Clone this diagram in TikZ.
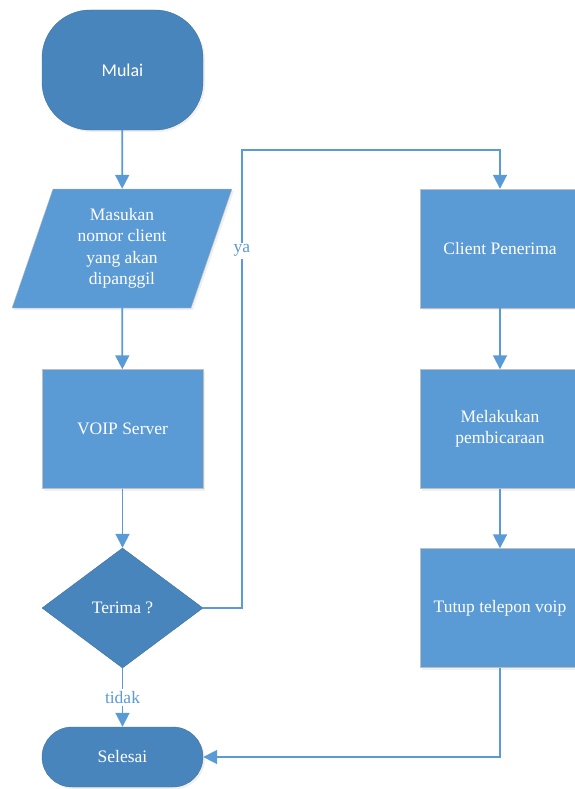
\documentclass[tikz,border=0pt]{standalone}
\usepackage{fontspec}
\setmainfont{Liberation Serif}
\newfontfamily\calibri{Carlito}
\usetikzlibrary{shapes.geometric, arrows.meta, positioning, shadows}
\definecolor{darkblue}{RGB}{73, 133, 189}
\definecolor{lightblue}{RGB}{91, 155, 213}
\definecolor{edgeblue}{RGB}{65, 113, 156}
\definecolor{boxgray}{RGB}{190, 190, 190}

\begin{document}
\begin{tikzpicture}[x=1pt, y=-1pt,
  term/.style={rectangle, draw=edgeblue, fill=darkblue, text=white, minimum width=161pt, inner sep=0pt, drop shadow={opacity=0.12, shadow xshift=2pt, shadow yshift=-2pt}},
  proc/.style={rectangle, draw=boxgray, fill=lightblue, text=white, minimum width=160pt, minimum height=119pt, inner sep=0pt, font=\fontsize{17.5}{21.5}\selectfont, drop shadow={opacity=0.12, shadow xshift=2pt, shadow yshift=-2pt}},
  arr/.style={draw=lightblue, line width=1.8pt, -{Triangle[width=14pt, length=14pt]}},
  lbl/.style={fill=white, text=lightblue, font=\fontsize{17.5}{20}\selectfont, inner sep=2pt},
]
  \useasboundingbox (0,0) rectangle (574,789);
  % Left column
  \node[term, rounded corners=48pt, minimum height=120pt, font=\calibri\fontsize{18}{21}\selectfont] (mulai) at (122.5,70) {Mulai};
  \node[trapezium, trapezium left angle=63, trapezium right angle=117, trapezium stretches body=true,
        draw=boxgray, fill=lightblue, text=white, minimum width=220pt, minimum height=119pt, inner sep=0pt,
        align=center, font=\fontsize{17.5}{21.5}\selectfont,
        drop shadow={opacity=0.12, shadow xshift=2pt, shadow yshift=-2pt}] (input) at (122,248.5)
        {Masukan\\nomor client\\yang akan\\dipanggil};
  \node[proc, minimum width=161pt] (voip) at (122.5,429) {VOIP Server};
  \node[diamond, draw=edgeblue, fill=darkblue, text=white, minimum width=161pt, minimum height=120pt, inner sep=0pt,
        font=\fontsize{17.5}{20}\selectfont] (terima) at (122.5,608) {Terima ?};
  \node[term, rounded corners=30pt, minimum height=60pt, font=\fontsize{17.5}{20}\selectfont] (selesai) at (122.5,757) {Selesai};
  % Right column
  \node[proc] (client) at (500,248.5) {Client Penerima};
  \node[proc, align=center] (bicara) at (500,429) {Melakukan\\pembicaraan};
  \node[proc] (tutup) at (500,608) {Tutup telepon voip};
  % Connectors
  \coordinate (yaturn) at (242,150);
  \draw[arr] (mulai) -- (input);
  \draw[arr] (input) -- (voip);
  \draw[arr] (voip) -- (terima);
  \draw[arr] (terima) -- node[lbl] {tidak} (selesai);
  \draw[arr] (terima.east) -| node[lbl, pos=0.89] {ya} (yaturn) -| (client);
  \draw[arr] (client) -- (bicara);
  \draw[arr] (bicara) -- (tutup);
  \draw[arr] (tutup) |- (selesai);
\end{tikzpicture}
\end{document}
